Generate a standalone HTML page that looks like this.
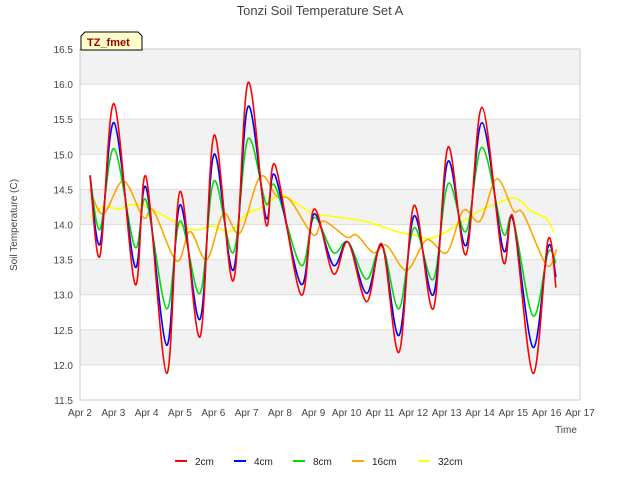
<!DOCTYPE html>
<html><head><meta charset="utf-8"><style>
body{margin:0;background:#fff;font-family:"Liberation Sans",sans-serif;}
svg text{font-family:"Liberation Sans",sans-serif;}
</style></head><body>
<svg id="chart" width="640" height="480">
<rect width="640" height="480" fill="#fff"/>
<text x="320" y="15" text-anchor="middle" font-size="13" fill="#444">Tonzi Soil Temperature Set A</text>
<g id="grid"></g>
<g id="axes"></g>
<g id="series"></g>
<text x="566" y="433" text-anchor="middle" font-size="10" fill="#444">Time</text>
<text transform="translate(17,225) rotate(-90)" text-anchor="middle" font-size="10" fill="#444">Soil Temperature (C)</text>
<g>
<path d="M81,50 L81,36 L85,32 L138,32 L142,36 L142,50 Z" fill="#ffffcc" stroke="#000" stroke-width="1"/>
<text x="87" y="46" font-size="11" font-weight="bold" fill="#a00000">TZ_fmet</text>
</g>
<g id="legend"></g>
</svg>
<script>
const yTicks=[11.5,12,12.5,13,13.5,14,14.5,15,15.5,16,16.5];
const xTickLabels=["Apr 2","Apr 3","Apr 4","Apr 5","Apr 6","Apr 7","Apr 8","Apr 9","Apr 10","Apr 11","Apr 12","Apr 13","Apr 14","Apr 15","Apr 16","Apr 17"];
const seriesNames=["2cm","4cm","8cm","16cm","32cm"];
const seriesColors=["#ff0000","#0000ff","#00dd00","#ffa500","#ffff00"];
const tShallow=[0.3,0.6,1.02,1.65,1.98,2.6,3.0,3.6,4.02,4.6,5.04,5.58,5.85,6.63,7.02,7.6,8.04,8.6,9.06,9.57,10.02,10.6,11.04,11.58,12.06,12.69,12.99,13.59,14.04,14.28];
const v2cm=[14.7,13.55,15.72,13.15,14.68,11.88,14.47,12.4,15.27,13.2,16.02,14.0,14.85,13.0,14.22,13.3,13.75,12.9,13.72,12.18,14.27,12.8,15.1,13.57,15.67,13.48,14.1,11.88,13.78,13.1];
const v4cm=[14.7,13.72,15.45,13.4,14.53,12.28,14.28,12.65,15.0,13.35,15.68,14.1,14.7,13.15,14.15,13.42,13.75,13.02,13.7,12.42,14.12,13.0,14.9,13.7,15.45,13.65,14.07,12.25,13.68,13.25];
const v8cm=[14.7,13.93,15.08,13.68,14.35,12.8,14.05,13.02,14.62,13.6,15.22,14.3,14.55,13.42,14.1,13.6,13.75,13.22,13.7,12.8,13.95,13.22,14.58,13.9,15.1,13.88,14.08,12.7,13.6,13.45];
const t16=[0.3,0.7,1.3,1.9,2.2,2.9,3.3,3.8,4.3,4.8,5.4,5.9,6.3,7.0,7.3,8.0,8.3,8.8,9.2,9.8,10.4,11.0,11.5,12.0,12.5,13.0,13.3,14.0,14.3];
const v16cm=[14.5,14.15,14.62,14.1,14.2,13.48,13.9,13.5,14.15,13.88,14.68,14.4,14.35,13.85,14.05,13.82,13.85,13.6,13.7,13.35,13.78,13.6,14.2,14.05,14.65,14.2,14.15,13.42,13.65];
const t32=[0.3,0.7,1.2,1.5,2.0,3.0,3.5,4.0,4.5,5.0,5.5,6.0,6.5,7.0,7.5,8.5,9.0,9.5,10.0,10.5,11.0,11.5,12.0,12.5,13.0,13.3,13.5,14.0,14.2];
const v32cm=[14.1,14.25,14.22,14.28,14.25,14.0,13.92,13.98,13.9,14.15,14.25,14.42,14.3,14.15,14.12,14.05,13.98,13.9,13.85,13.8,13.9,14.05,14.2,14.3,14.38,14.3,14.2,14.08,13.9];
const L=80,R=580,T=49,B=400;
const xs=d=>L+d*(R-L)/15;
const ys=v=>B-(v-11.5)*(B-T)/5;
const NS="http://www.w3.org/2000/svg";
function mk(tag,attrs,parent){const e=document.createElementNS(NS,tag);for(const k in attrs)e.setAttribute(k,attrs[k]);parent.appendChild(e);return e;}
const grid=document.getElementById('grid'),axes=document.getElementById('axes'),ser=document.getElementById('series'),leg=document.getElementById('legend');
for(let i=0;i<yTicks.length-1;i++){
 if(i%2===1){const r=mk('rect',{x:L,y:ys(yTicks[i+1]),width:R-L,height:ys(yTicks[i])-ys(yTicks[i+1]),fill:'#f2f2f2'},grid);
 
 }
}
yTicks.forEach(v=>{
 const l=mk('line',{x1:L,x2:R,y1:ys(v),y2:ys(v),stroke:'#dddddd','stroke-width':1},grid);
 
 
 const t=mk('text',{x:L-7,y:ys(v)+4,'text-anchor':'end','font-size':10,fill:'#444'},axes);
 t.textContent=v.toFixed(1);
 
 
});
const fr=mk('rect',{x:L,y:T,width:R-L,height:B-T,fill:'none',stroke:'#cccccc'},grid);


xTickLabels.forEach((s,i)=>{
 const t=mk('text',{x:xs(i),y:416,'text-anchor':'middle','font-size':10,fill:'#444'},axes);
 t.textContent=s;
 
 
});
function smooth(ts,vs){
 const p=ts.map((t,i)=>[xs(t),ys(vs[i])]);
 let d='M'+p[0][0]+','+p[0][1];
 for(let i=0;i<p.length-1;i++){
  const p0=p[Math.max(0,i-1)],p1=p[i],p2=p[i+1],p3=p[Math.min(p.length-1,i+2)];
  const c1=[p1[0]+(p2[0]-p0[0])/6,p1[1]+(p2[1]-p0[1])/6];
  const c2=[p2[0]-(p3[0]-p1[0])/6,p2[1]-(p3[1]-p1[1])/6];
  d+=' C'+c1.join(',')+' '+c2.join(',')+' '+p2.join(',');
 }
 return d;
}
const sData=[[tShallow,v2cm],[tShallow,v4cm],[tShallow,v8cm],[t16,v16cm],[t32,v32cm]];
for(let k=sData.length-1;k>=0;k--){
 const p=mk('path',{d:smooth(sData[k][0],sData[k][1]),fill:'none',stroke:seriesColors[k],'stroke-width':1.6},ser);
 
 
}
const legX=[175,234,293,352,418];
seriesNames.forEach((n,i)=>{
 const g=mk('g',{},leg);
 
 
 mk('line',{x1:legX[i],x2:legX[i]+12,y1:461,y2:461,stroke:seriesColors[i],'stroke-width':2},g);
 const t=mk('text',{x:legX[i]+20,y:465,'font-size':10,fill:'#222'},g);
 t.textContent=n;
});
</script>
</body></html>
